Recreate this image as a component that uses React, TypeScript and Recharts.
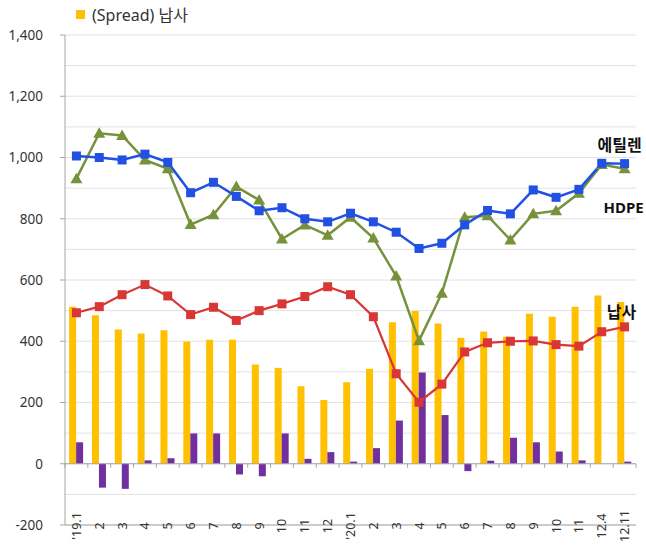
import { ComposedChart, Bar, Line, XAxis, YAxis, CartesianGrid, ReferenceLine, ReferenceDot } from 'recharts'

// 월별 레이블 ('19.1 ~ 12.11)
const months = [
  "'19.1", '2', '3', '4', '5', '6', '7', '8', '9', '10', '11', '12',
  "'20.1", '2', '3', '4', '5', '6', '7', '8', '9', '10', '11', '12.4', '12.11',
]
const naphthaSpread = [513, 485, 438, 425, 436, 399, 405, 405, 324, 313, 253, 208, 266, 310, 462, 499, 458, 411, 432, 415, 490, 480, 513, 549, 528]
const otherSpread = [70, -78, -82, 11, 18, 99, 99, -35, -41, 99, 16, 38, 7, 51, 141, 298, 159, -24, 10, 85, 70, 40, 11, 0, 7]
const ethylene = [1005, 1000, 992, 1011, 984, 885, 919, 873, 826, 836, 800, 790, 818, 790, 756, 703, 720, 780, 827, 816, 894, 870, 896, 981, 980]
const hdpe = [931, 1079, 1072, 992, 963, 781, 813, 905, 861, 734, 780, 746, 805, 737, 613, 402, 557, 805, 810, 731, 816, 826, 883, 977, 963]
const naphtha = [493, 513, 552, 585, 548, 487, 511, 468, 500, 522, 546, 578, 552, 480, 294, 201, 260, 365, 395, 400, 401, 389, 384, 431, 447]

const yTicks = [-200, 0, 200, 400, 600, 800, 1000, 1200, 1400]
const gridValues = [-200, -100, 0, 100, 200, 300, 400, 500, 600, 700, 800, 900, 1000, 1100, 1200, 1300, 1400]
const names = { spread: '(Spread) 납사', ethylene: '에틸렌', hdpe: 'HDPE', naphtha: '납사' }

const data = months.map((m, i) => ({
  month: m,
  spread: naphthaSpread[i],
  other: otherSpread[i],
  ethylene: ethylene[i],
  hdpe: hdpe[i],
  naphtha: naphtha[i],
}))

const W = 646
const H = 548
const M = { top: 35, right: 10, bottom: 0, left: 0 }
const Y_AXIS_W = 65
const X_AXIS_H = 23
const plotH = H - M.top - M.bottom - X_AXIS_H
const plotW = W - M.left - M.right - Y_AXIS_W
const band = plotW / months.length
const zeroY = M.top + (plotH * 1400) / 1600
const last = months.length - 1

const FONT = "'Noto Sans', 'Noto Sans CJK KR', sans-serif"
const AXIS = '#a6a6a6'

const XTick = (p: any) => {
  const { x, index, payload } = p
  const ty = 526
  return (
    <g>
      <text
        x={x}
        y={ty}
        transform={`rotate(-90 ${x} ${ty})`}
        textAnchor="middle"
        dominantBaseline="central"
        fontSize={12.5}
        fill="#333"
        fontFamily={FONT}
      >
        {payload.value}
      </text>
      <line x1={x - band / 2} x2={x - band / 2} y1={zeroY} y2={zeroY + 4} stroke={AXIS} />
      {index === last && (
        <line x1={x + band / 2} x2={x + band / 2} y1={zeroY} y2={zeroY + 4} stroke={AXIS} />
      )}
    </g>
  )
}

const square = (color: string) => (p: any) =>
  p.cx == null ? null : (
    <rect key={p.index} x={p.cx - 4.5} y={p.cy - 4.5} width={9} height={9} fill={color} />
  )

const triangle = (color: string) => (p: any) =>
  p.cx == null ? null : (
    <path key={p.index} d={`M${p.cx},${p.cy - 6}L${p.cx + 6},${p.cy + 4.5}L${p.cx - 6},${p.cy + 4.5}Z`} fill={color} />
  )

// 마지막 점 옆에 계열 이름
const nameTag = (text: string, dx: number, dy: number, size = 16) => (p: any) => (
  <text x={p.cx + dx} y={p.cy + dy} textAnchor="middle" fontSize={size} fontWeight={700} fill="#111" fontFamily={FONT}>
    {text}
  </text>
)

export default function App() {
  return (
    <div style={{ position: 'fixed', left: 0, top: 0, width: W, height: H, overflow: 'hidden', background: '#fff', fontFamily: FONT }}>
      <div style={{ position: 'absolute', left: 76, top: 2, display: 'flex', alignItems: 'center', fontSize: 16, color: '#333' }}>
        <span style={{ display: 'inline-block', width: 9, height: 9, background: '#FFC000', marginRight: 7 }} />
        {names.spread}
      </div>
      <ComposedChart width={W} height={H} data={data} margin={M} barCategoryGap="18%" barGap={0}>
        <CartesianGrid vertical={false} stroke="#e3e3e3" horizontalValues={gridValues} />
        <XAxis
          dataKey="month"
          interval={0}
          height={X_AXIS_H}
          stroke={AXIS}
          tickLine={false}
          tick={<XTick />}
        />
        <YAxis
          width={Y_AXIS_W}
          domain={[-200, 1400]}
          ticks={yTicks}
          stroke={AXIS}
          tickSize={5}
          tickMargin={17}
          tickFormatter={(v: number) => v.toLocaleString('en-US')}
          tick={{ fontSize: 13.5, fill: '#333', fontFamily: FONT }}
        />
        <ReferenceLine y={0} stroke={AXIS} />
        <Bar dataKey="spread" name={names.spread} fill="#FFC000" isAnimationActive={false} />
        <Bar dataKey="other" fill="#7030A0" isAnimationActive={false} />
        <Line
          dataKey="naphtha"
          name={names.naphtha}
          stroke="#D93636"
          strokeWidth={2.2}
          dot={square('#D93636')}
          isAnimationActive={false}
        />
        <Line
          dataKey="hdpe"
          name={names.hdpe}
          stroke="#76923C"
          strokeWidth={2.5}
          dot={triangle('#76923C')}
          isAnimationActive={false}
        />
        <Line
          dataKey="ethylene"
          name={names.ethylene}
          stroke="#2150E3"
          strokeWidth={2.5}
          dot={square('#2150E3')}
          isAnimationActive={false}
        />
        <ReferenceDot x={last} y={ethylene[last]} ifOverflow="visible" shape={nameTag(names.ethylene, -5, -13)} />
        <ReferenceDot x={last} y={hdpe[last]} ifOverflow="visible" shape={nameTag(names.hdpe, -1, 44, 15)} />
        <ReferenceDot x={last} y={naphtha[last]} ifOverflow="visible" shape={nameTag(names.naphtha, -3, -9)} />
      </ComposedChart>
    </div>
  )
}
